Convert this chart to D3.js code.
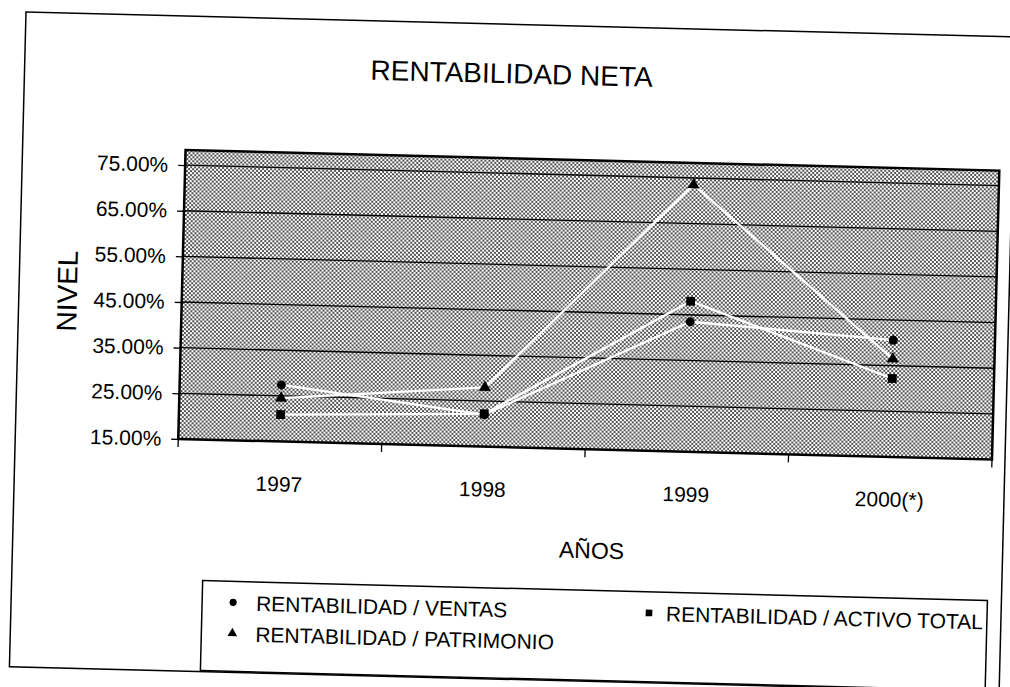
<!DOCTYPE html>
<html>
<head>
<meta charset="utf-8">
<script src="https://cdn.jsdelivr.net/npm/d3@7"></script>
<style>
  html, body { margin: 0; padding: 0; background: #fff; }
  svg { display: block; }
  text { font-family: "Liberation Sans", Arial, sans-serif; fill: #000; }
</style>
</head>
<body>
<svg id="chart" width="1010" height="687"></svg>
<script>
// ---- data ----
const years = ["1997", "1998", "1999", "2000(*)"];
const ventas = [0.274, 0.220, 0.435, 0.406];
const activoTotal = [0.209, 0.222, 0.480, 0.322];
const patrimonio = [0.245, 0.280, 0.735, 0.365];
const yTickValues = [0.15, 0.25, 0.35, 0.45, 0.55, 0.65, 0.75];
const seriesNames = ["RENTABILIDAD / VENTAS", "RENTABILIDAD / ACTIVO TOTAL", "RENTABILIDAD / PATRIMONIO"];
const titleText = "RENTABILIDAD NETA";
const xTitle = "AÑOS";
const yTitle = "NIVEL";

// ---- layout ----
const plot = { left: 189, right: 1003, top: 146, bottom: 435 };
const svg = d3.select("#chart");

const defs = svg.append("defs");
const pat = defs.append("pattern")
  .attr("id", "stipple").attr("patternUnits", "userSpaceOnUse")
  .attr("width", 4).attr("height", 4);
pat.append("rect").attr("width", 4).attr("height", 4).attr("fill", "#fff");
pat.append("rect").attr("x", 0).attr("y", 0).attr("width", 2).attr("height", 2).attr("fill", "#555");
pat.append("rect").attr("x", 2).attr("y", 2).attr("width", 2).attr("height", 2).attr("fill", "#555");

// whole scanned page is slightly rotated
const g = svg.append("g").attr("transform", "rotate(1.45, 28, 12)");

// outer border
g.append("rect").attr("x", 26).attr("y", 12).attr("width", 990).attr("height", 655)
  .attr("fill", "none").attr("stroke", "#000").attr("stroke-width", 1.5);

const x = d3.scaleBand().domain(years).range([plot.left, plot.right]);
const y = d3.scaleLinear().domain([0.15, 0.783]).range([plot.bottom, plot.top]);

// plot background
g.append("rect").attr("x", plot.left).attr("y", plot.top)
  .attr("width", plot.right - plot.left).attr("height", plot.bottom - plot.top)
  .attr("fill", "url(#stipple)");

// gridlines
g.append("g").selectAll("line").data(yTickValues.slice(1)).join("line")
  .attr("x1", plot.left).attr("x2", plot.right)
  .attr("y1", d => y(d)).attr("y2", d => y(d))
  .attr("stroke", "#000").attr("stroke-width", 1.3);

// plot border
g.append("rect").attr("x", plot.left).attr("y", plot.top)
  .attr("width", plot.right - plot.left).attr("height", plot.bottom - plot.top)
  .attr("fill", "none").attr("stroke", "#000").attr("stroke-width", 2.5);

// y axis
const yAxis = g.append("g").attr("transform", `translate(${plot.left},0)`)
  .call(d3.axisLeft(y).tickValues(yTickValues).tickFormat(d3.format(".2%")).tickSize(7).tickPadding(10));
yAxis.select(".domain").remove();
yAxis.selectAll(".tick line").attr("stroke", "#000").attr("stroke-width", 1.3);
yAxis.selectAll("text").attr("font-size", 21).attr("font-family", "Liberation Sans, Arial, sans-serif");

// x axis labels
const xAxis = g.append("g").attr("transform", `translate(0,${plot.bottom})`)
  .call(d3.axisBottom(x).tickSize(0).tickPadding(35));
xAxis.select(".domain").remove();
xAxis.selectAll("text").attr("font-size", 21).attr("font-family", "Liberation Sans, Arial, sans-serif");

// category boundary ticks below x axis
const boundaries = years.map(d => x(d)).concat([plot.right]);
g.append("g").selectAll("line").data(boundaries).join("line")
  .attr("x1", d => d).attr("x2", d => d)
  .attr("y1", plot.bottom).attr("y2", plot.bottom + 8)
  .attr("stroke", "#000").attr("stroke-width", 1.3);

// series lines (white)
const cx = d => x(d) + x.bandwidth() / 2;
const allSeries = [ventas, activoTotal, patrimonio];
const line = d3.line().x((d, i) => cx(years[i])).y(d => y(d));
g.append("g").selectAll("path").data(allSeries).join("path")
  .attr("d", d => line(d)).attr("fill", "none")
  .attr("stroke", "#fff").attr("stroke-width", 2.3).attr("stroke-linejoin", "round");

// markers
const symTypes = [d3.symbolCircle, d3.symbolSquare, d3.symbolTriangle];
const symSizes = [64, 78, 62];
allSeries.forEach((s, k) => {
  g.append("g").selectAll("path").data(s).join("path")
    .attr("transform", (d, i) => `translate(${cx(years[i])},${y(d)})`)
    .attr("d", d3.symbol().type(symTypes[k]).size(symSizes[k]))
    .attr("fill", "#000");
});

// title
g.append("text").attr("x", 513).attr("y", 71).attr("text-anchor", "middle")
  .attr("font-size", 28).text(titleText);

// axis titles
g.append("text").attr("x", 605).attr("y", 544).attr("text-anchor", "middle")
  .attr("font-size", 23).text(xTitle);
g.append("text").attr("transform", "translate(84,290) rotate(-90)").attr("text-anchor", "middle")
  .attr("font-size", 28).text(yTitle);

// legend
const lg = g.append("g");
lg.append("rect").attr("x", 217).attr("y", 576).attr("width", 785).attr("height", 90)
  .attr("fill", "#fff").attr("stroke", "#000").attr("stroke-width", 1.5);
const legendPos = [
  { mx: 248, tx: 271, cy: 597 },
  { mx: 664, tx: 681, cy: 597 },
  { mx: 248, tx: 271, cy: 628 }
];
const legendSizes = [40, 44, 40];
seriesNames.forEach((name, k) => {
  const p = legendPos[k];
  lg.append("path").attr("transform", `translate(${p.mx},${p.cy})`)
    .attr("d", d3.symbol().type(symTypes[k]).size(legendSizes[k])).attr("fill", "#000");
  lg.append("text").attr("x", p.tx).attr("y", p.cy + 8).attr("font-size", 21).text(name);
});
</script>
</body>
</html>
